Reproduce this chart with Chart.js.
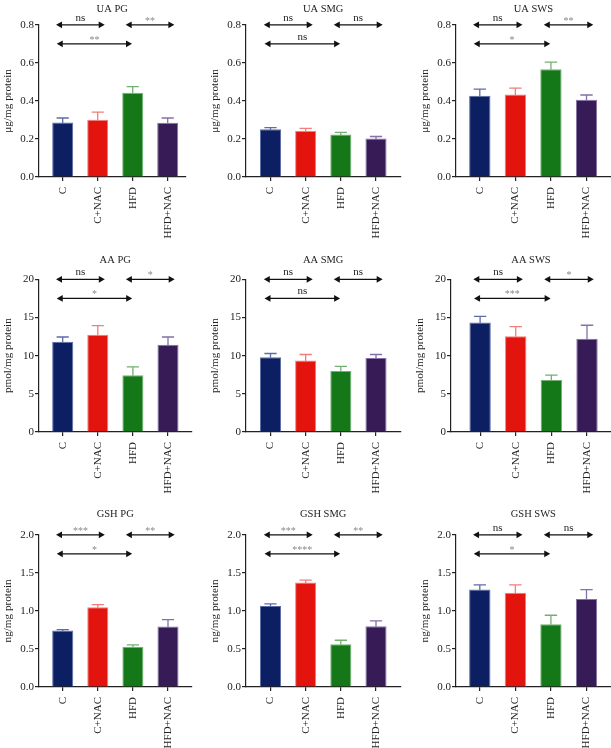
<!DOCTYPE html>
<html>
<head>
<meta charset="utf-8">
<script src="https://cdn.jsdelivr.net/npm/chart.js@4.4.1/dist/chart.umd.min.js"></script>
<style>
  html, body { margin: 0; padding: 0; background: #fff; }
  #wrap { position: relative; width: 611px; height: 748px; overflow: hidden; background: #fff; }
  #wrap canvas { position: absolute; }
</style>
</head>
<body>
<div id="wrap"></div>
<script>
// ---------------- data ----------------
const categories = ['C', 'C+NAC', 'HFD', 'HFD+NAC'];

const uaPG = [0.287, 0.301, 0.443, 0.285];
const uaPGErr = [0.023, 0.040, 0.032, 0.025];
const uaSMG = [0.251, 0.242, 0.223, 0.202];
const uaSMGErr = [0.009, 0.014, 0.012, 0.011];
const uaSWS = [0.427, 0.434, 0.566, 0.406];
const uaSWSErr = [0.035, 0.033, 0.038, 0.025];

const aaPG = [11.82, 12.75, 7.43, 11.43];
const aaPGErr = [0.62, 1.18, 1.10, 1.01];
const aaSMG = [9.80, 9.37, 7.99, 9.68];
const aaSMGErr = [0.48, 0.78, 0.61, 0.47];
const aaSWS = [14.33, 12.55, 6.80, 12.21];
const aaSWSErr = [0.82, 1.26, 0.65, 1.77];

const gshPG = [0.741, 1.048, 0.530, 0.794];
const gshPGErr = [0.013, 0.035, 0.023, 0.092];
const gshSMG = [1.066, 1.373, 0.561, 0.798];
const gshSMGErr = [0.026, 0.031, 0.053, 0.070];
const gshSWS = [1.280, 1.237, 0.825, 1.158];
const gshSWSErr = [0.062, 0.105, 0.118, 0.122];

// significance: [C vs C+NAC, HFD vs HFD+NAC, C vs HFD]
const sigUAPG = ['ns', '**', '**'];
const sigUASMG = ['ns', 'ns', 'ns'];
const sigUASWS = ['ns', '**', '*'];
const sigAAPG = ['ns', '*', '*'];
const sigAASMG = ['ns', 'ns', 'ns'];
const sigAASWS = ['ns', '*', '***'];
const sigGSHPG = ['***', '**', '*'];
const sigGSHSMG = ['***', '**', '****'];
const sigGSHSWS = ['ns', 'ns', '*'];

const uaTicks = [0, 0.2, 0.4, 0.6, 0.8];
const aaTicks = [0, 5, 10, 15, 20];
const gshTicks = [0, 0.5, 1.0, 1.5, 2.0];

const uaLevels = [0.8, 0.7];
const aaLevels = [20, 17.5];
const gshLevels = [2.0, 1.75];

const uaUnit = 'μg/mg protein';
const aaUnit = 'pmol/mg protein';
const gshUnit = 'ng/mg protein';

// ---------------- style ----------------
const barColors = ['#0b1f62', '#e3130e', '#147818', '#371b56'];
const edgeColors = ['#5d6ca6', '#f27d79', '#72b072', '#8471a5'];
const FONT = "'Liberation Serif', 'DejaVu Serif', serif";
const INK = '#222';

// layout per panel: axis x, axis end x, first bar centre, last bar centre; rows: plot top, plot bottom, title gap
const rowY = [[24.5, 177, 15.5], [279, 432, 19], [534.7, 686.7, 20.5]];
const colX = [
  [[39.3, 185.7, 63, 168], [245.7, 400, 270.2, 375.7], [456, 610.7, 479.8, 586.5]],
  [[39.3, 191.7, 63, 168.3], [245.7, 400, 270.2, 375.7], [450.7, 610.7, 479.8, 586.7]],
  [[39.3, 191.7, 63, 168.3], [245.7, 400, 270.2, 375.7], [456, 610.7, 479.8, 586.5]]
];

const panels = [
  { title: 'UA PG', v: uaPG, e: uaPGErr, sig: sigUAPG, ticks: uaTicks, lv: uaLevels, unit: uaUnit, dec: 1 },
  { title: 'UA SMG', v: uaSMG, e: uaSMGErr, sig: sigUASMG, ticks: uaTicks, lv: uaLevels, unit: uaUnit, dec: 1 },
  { title: 'UA SWS', v: uaSWS, e: uaSWSErr, sig: sigUASWS, ticks: uaTicks, lv: uaLevels, unit: uaUnit, dec: 1 },
  { title: 'AA PG', v: aaPG, e: aaPGErr, sig: sigAAPG, ticks: aaTicks, lv: aaLevels, unit: aaUnit, dec: 0 },
  { title: 'AA SMG', v: aaSMG, e: aaSMGErr, sig: sigAASMG, ticks: aaTicks, lv: aaLevels, unit: aaUnit, dec: 0 },
  { title: 'AA SWS', v: aaSWS, e: aaSWSErr, sig: sigAASWS, ticks: aaTicks, lv: aaLevels, unit: aaUnit, dec: 0 },
  { title: 'GSH PG', v: gshPG, e: gshPGErr, sig: sigGSHPG, ticks: gshTicks, lv: gshLevels, unit: gshUnit, dec: 1 },
  { title: 'GSH SMG', v: gshSMG, e: gshSMGErr, sig: sigGSHSMG, ticks: gshTicks, lv: gshLevels, unit: gshUnit, dec: 1 },
  { title: 'GSH SWS', v: gshSWS, e: gshSWSErr, sig: sigGSHSWS, ticks: gshTicks, lv: gshLevels, unit: gshUnit, dec: 1 }
];

const Y_AXIS_W = 39;
const X_AXIS_H = 70;
const PAD_R = 8;
const TITLE_PAD_TOP = 2;
const TITLE_LH = 10.5 * 1.2;

// ---------------- overlay plugin: error bars + significance arrows ----------------
function arrowHead(ctx, x, y, dir) {
  ctx.beginPath();
  ctx.moveTo(x, y);
  ctx.lineTo(x - dir * 6, y - 3.4);
  ctx.lineTo(x - dir * 6, y + 3.4);
  ctx.closePath();
  ctx.fill();
}

const overlay = {
  id: 'overlay',
  afterDatasetsDraw(chart, args, opts) {
    const p = opts.panel;
    const ctx = chart.ctx;
    const xs = chart.scales.x, ys = chart.scales.y;
    const meta = chart.getDatasetMeta(0);
    ctx.save();
    // error bars (upper)
    meta.data.forEach((bar, i) => {
      const top = ys.getPixelForValue(p.v[i] + p.e[i]);
      const half = bar.width * 0.29;
      ctx.strokeStyle = edgeColors[i];
      ctx.lineWidth = 1.3;
      ctx.beginPath();
      ctx.moveTo(bar.x, bar.y + 0.5);
      ctx.lineTo(bar.x, top);
      ctx.moveTo(bar.x - half, top);
      ctx.lineTo(bar.x + half, top);
      ctx.stroke();
    });
    // significance arrows
    const comps = [[0, 1, p.lv[0], p.sig[0], -0.19, 0.2], [2, 3, p.lv[0], p.sig[1], -0.2, 0.19], [0, 2, p.lv[1], p.sig[2], -0.17, -0.02]];
    comps.forEach(([a, b, lvl, label, l, r]) => {
      const x1 = xs.getPixelForValue(a + l);
      const x2 = xs.getPixelForValue(b + r);
      const y = ys.getPixelForValue(lvl);
      ctx.strokeStyle = '#111';
      ctx.fillStyle = '#111';
      ctx.lineWidth = 1.3;
      ctx.beginPath();
      ctx.moveTo(x1 + 3, y);
      ctx.lineTo(x2 - 3, y);
      ctx.stroke();
      arrowHead(ctx, x1, y, -1);
      arrowHead(ctx, x2, y, 1);
      const isNs = label === 'ns';
      ctx.fillStyle = isNs ? '#222' : '#888';
      ctx.font = (isNs ? '11px ' : '10px ') + FONT;
      ctx.textAlign = 'center';
      ctx.textBaseline = 'alphabetic';
      ctx.fillText(label, (x1 + x2) / 2, isNs ? y - 4 : y - 1);
    });
    ctx.restore();
  }
};

// ---------------- build charts ----------------
const wrap = document.getElementById('wrap');
panels.forEach((p, k) => {
  const r = Math.floor(k / 3), c = k % 3;
  const [axisX, axisEnd, first, last] = colX[r][c];
  const [plotTop, plotBottom, gap] = rowY[r];
  const spacing = (last - first) / 3;
  const xmin = -(first - axisX) / spacing;
  const xmax = 3 + (axisEnd - last) / spacing;
  const titleBlock = gap + TITLE_PAD_TOP + TITLE_LH / 2;
  const padBottomTitle = titleBlock - TITLE_PAD_TOP - TITLE_LH;
  const w = Y_AXIS_W + (axisEnd - axisX) + PAD_R;
  const h = titleBlock + (plotBottom - plotTop) + X_AXIS_H;

  const cv = document.createElement('canvas');
  cv.width = Math.round(w);
  cv.height = Math.round(h);
  cv.style.left = (axisX - Y_AXIS_W) + 'px';
  cv.style.top = (plotTop - titleBlock) + 'px';
  cv.style.width = Math.round(w) + 'px';
  cv.style.height = Math.round(h) + 'px';
  wrap.appendChild(cv);

  new Chart(cv, {
    type: 'bar',
    data: {
      datasets: [{
        data: p.v.map((v, i) => ({ x: i, y: v })),
        backgroundColor: barColors,
        borderColor: edgeColors,
        borderWidth: 1,
        barPercentage: 0.6,
        categoryPercentage: 1.0
      }]
    },
    options: {
      responsive: false,
      animation: false,
      devicePixelRatio: 1,
      layout: { padding: { top: 0, left: 0, right: Math.round(w) - Y_AXIS_W - (axisEnd - axisX), bottom: 0 } },
      plugins: {
        legend: { display: false },
        tooltip: { enabled: false },
        title: {
          display: true,
          text: p.title,
          fullSize: false,
          color: INK,
          font: { family: FONT, size: 10.5, weight: 'normal' },
          padding: { top: TITLE_PAD_TOP, bottom: padBottomTitle }
        },
        overlay: { panel: p }
      },
      scales: {
        x: {
          type: 'linear',
          min: xmin,
          max: xmax,
          offset: false,
          afterBuildTicks: (s) => { s.ticks = categories.map((_, i) => ({ value: i })); },
          afterFit: (s) => { s.height = X_AXIS_H; },
          grid: { display: true, drawOnChartArea: false, drawTicks: true, tickLength: 4, offset: false, color: INK, lineWidth: 1.2 },
          border: { display: true, color: INK, width: 1.2 },
          ticks: {
            autoSkip: false,
            minRotation: 90,
            maxRotation: 90,
            padding: 6,
            color: INK,
            font: { family: FONT, size: 11 },
            callback: (v) => categories[v]
          }
        },
        y: {
          min: p.ticks[0],
          max: p.ticks[p.ticks.length - 1],
          afterBuildTicks: (s) => { s.ticks = p.ticks.map(v => ({ value: v })); },
          afterFit: (s) => { s.width = Y_AXIS_W; },
          grid: { display: true, drawOnChartArea: false, drawTicks: true, tickLength: 4, color: INK, lineWidth: 1.2 },
          border: { display: true, color: INK, width: 1.2 },
          ticks: {
            padding: 1,
            color: INK,
            font: { family: FONT, size: 11 },
            callback: (v) => Number(v).toFixed(p.dec)
          },
          title: {
            display: true,
            text: p.unit,
            color: INK,
            font: { family: FONT, size: 11.2 },
            padding: { top: 1, bottom: 0 }
          }
        }
      }
    },
    plugins: [overlay]
  });
});
</script>
</body>
</html>
